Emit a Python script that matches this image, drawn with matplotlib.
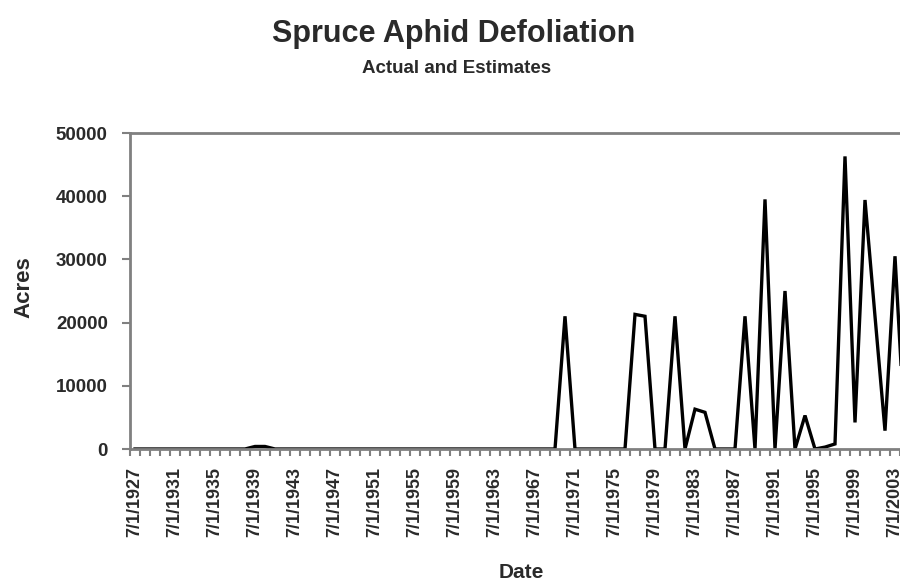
import matplotlib
matplotlib.use("Agg")
import matplotlib.pyplot as plt
import numpy as np
from matplotlib.ticker import FixedLocator, NullFormatter

plt.rcParams['font.family'] = ['Liberation Sans', 'DejaVu Sans']

years = list(range(1927, 2005))
acres_known = {
    1939: 400, 1940: 400,
    1970: 21000,
    1977: 21300, 1978: 21000,
    1981: 21000,
    1983: 6300, 1984: 5800,
    1988: 21000,
    1990: 39500,
    1992: 25000,
    1994: 5300,
    1996: 300, 1997: 800,
    1998: 46300,
    1999: 4200,
    2000: 39400,
    2001: 21000,
    2002: 2900,
    2003: 30500,
    2004: 2000,
}
acres = [acres_known.get(y, 0) for y in years]
label_years = list(range(1927, 2004, 4))
tick_labels = [f"7/1/{y}" for y in label_years]
y_ticks = [0, 10000, 20000, 30000, 40000, 50000]

fig = plt.figure(figsize=(9, 5.84), dpi=100)
ax = fig.add_axes([130/900, 1-449/584, 1-130/900, (449-133)/584])

ax.plot(years, acres, color='black', linewidth=2.4, solid_joinstyle='miter')

ax.set_xlim(1926.5, 2003.5)
ax.set_ylim(0, 50000)

ax.set_yticks(y_ticks)
ax.set_yticklabels([str(v) for v in y_ticks], fontsize=13.5, fontweight='bold', color='#2a2a2a')
ax.tick_params(axis='y', direction='out', length=6, width=1.5, color='#808080', pad=10)

ax.set_xticks(label_years)
ax.set_xticklabels(tick_labels, rotation=90, fontsize=13, fontweight='bold', color='#2a2a2a')
ax.tick_params(axis='x', which='major', length=0, pad=13)
ax.xaxis.set_minor_locator(FixedLocator(np.arange(1926.5, 2004, 1)))
ax.xaxis.set_minor_formatter(NullFormatter())
ax.tick_params(axis='x', which='minor', direction='out', length=5, width=1.5, color='#808080')

for s in ['left', 'bottom', 'top']:
    ax.spines[s].set_color('#808080')
    ax.spines[s].set_linewidth(2)
ax.spines['right'].set_visible(False)

fig.text(454/900, 1-42/584, "Spruce Aphid Defoliation", ha='center', va='baseline',
         fontsize=22, fontweight='bold', color='#2a2a2a')
fig.text(457/900, 1-73/584, "Actual and Estimates", ha='center', va='baseline',
         fontsize=13.5, fontweight='bold', color='#2a2a2a')
fig.text(521/900, 1-572/584, "Date", ha='center', va='center',
         fontsize=15, fontweight='bold', color='#2a2a2a')
fig.text(24/900, 1-287/584, "Acres", ha='center', va='center', rotation=90,
         fontsize=16, fontweight='bold', color='#2a2a2a')

fig.savefig("out.png", dpi=100, facecolor='white')
